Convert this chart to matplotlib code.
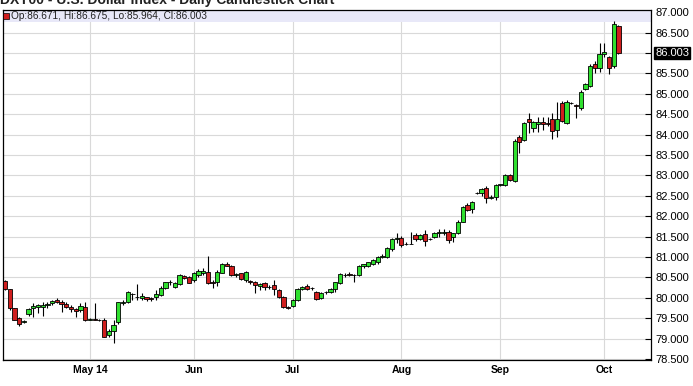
import matplotlib
matplotlib.use("Agg")
import matplotlib.pyplot as plt
from matplotlib.patches import Rectangle
import pandas as pd
import numpy as np

plt.rcParams['font.family'] = ['Liberation Sans', 'DejaVu Sans']

dates = pd.bdate_range('2014-04-07', '2014-10-06')

opens = [80.42, 80.21, 79.74, 79.50, 79.41, 79.60, 79.74, 79.78, 79.78, 79.82,
         79.87, 79.96, 79.89, 79.86, 79.77, 79.73, 79.70, 79.77, 79.47, 79.48,
         79.47, 79.47, 79.09, 79.20, 79.40, 79.87, 79.89, 80.09, 80.02, 79.99,
         80.01, 79.99, 80.01, 80.07, 80.23, 80.38, 80.26, 80.34, 80.54, 80.50,
         80.44, 80.55, 80.62, 80.63, 80.38, 80.38, 80.62, 80.82, 80.77, 80.56,
         80.60, 80.44, 80.41, 80.40, 80.29, 80.36, 80.26, 80.31, 80.19, 80.03,
         79.77, 79.80, 79.95, 80.21, 80.29, 80.23, 80.14, 79.99, 80.14, 80.14,
         80.21, 80.37, 80.56, 80.58, 80.56, 80.55, 80.78, 80.78, 80.82, 80.88,
         81.01, 81.00, 81.19, 81.45, 81.46, 81.31, 81.32, 81.54, 81.44, 81.56,
         81.43, 81.49, 81.59, 81.60, 81.61, 81.48, 81.58, 81.87, 82.28, 82.17,
         82.57, 82.58, 82.70, 82.45, 82.48, 82.77, 82.77, 83.01, 82.87, 83.94,
         83.87, 84.38, 84.16, 84.26, 84.32, 84.28, 84.38, 84.12, 84.77, 84.28,
         84.77, 84.72, 84.65, 85.12, 85.18, 85.73, 85.63, 85.98, 85.90, 85.67,
         86.671]
highs = [80.45, 80.22, 79.76, 79.54, 79.46, 79.74, 79.87, 79.86, 79.90, 79.90,
         79.96, 79.99, 79.95, 79.91, 79.83, 79.75, 79.87, 79.89, 79.50, 79.87,
         79.49, 79.50, 79.23, 79.46, 79.91, 79.95, 80.16, 80.12, 80.34, 80.11,
         80.03, 80.03, 80.19, 80.28, 80.40, 80.44, 80.40, 80.59, 80.56, 80.54,
         80.64, 80.70, 80.72, 81.03, 80.44, 80.68, 80.86, 80.89, 80.80, 80.62,
         80.62, 80.65, 80.45, 80.41, 80.36, 80.38, 80.32, 80.44, 80.22, 80.05,
         79.80, 79.97, 80.23, 80.28, 80.35, 80.26, 80.16, 80.14, 80.18, 80.24,
         80.40, 80.60, 80.62, 80.63, 80.58, 80.80, 80.84, 80.89, 80.94, 81.03,
         81.08, 81.25, 81.47, 81.58, 81.52, 81.36, 81.62, 81.60, 81.56, 81.66,
         81.46, 81.62, 81.68, 81.68, 81.66, 81.60, 81.90, 82.26, 82.32, 82.38,
         82.60, 82.68, 82.74, 82.52, 82.80, 82.80, 83.04, 83.03, 83.90, 84.00,
         84.30, 84.54, 84.34, 84.44, 84.44, 84.44, 84.52, 84.81, 84.82, 84.85,
         84.81, 84.74, 85.10, 85.27, 85.72, 85.80, 86.25, 86.25, 85.93, 86.79,
         86.675]
lows = [80.19, 79.70, 79.46, 79.31, 79.38, 79.56, 79.54, 79.62, 79.56, 79.74,
        79.83, 79.87, 79.66, 79.74, 79.66, 79.54, 79.66, 79.44, 79.45, 79.46,
        79.44, 79.03, 79.05, 78.89, 79.37, 79.83, 79.87, 79.96, 79.95, 79.95,
        79.93, 79.93, 79.96, 80.05, 80.21, 80.32, 80.24, 80.32, 80.46, 80.36,
        80.40, 80.52, 80.55, 80.33, 80.23, 80.28, 80.60, 80.77, 80.54, 80.52,
        80.44, 80.40, 80.33, 80.13, 80.20, 80.20, 80.22, 80.07, 80.00, 79.74,
        79.72, 79.78, 79.93, 80.19, 80.19, 80.20, 79.95, 79.97, 80.10, 80.12,
        80.15, 80.35, 80.52, 80.53, 80.40, 80.53, 80.74, 80.76, 80.80, 80.84,
        80.98, 80.97, 81.16, 81.34, 81.24, 81.30, 81.31, 81.40, 81.42, 81.27,
        81.41, 81.46, 81.50, 81.55, 81.35, 81.38, 81.56, 81.85, 82.12, 82.08,
        82.55, 82.50, 82.32, 82.42, 82.40, 82.75, 82.75, 82.87, 82.85, 83.54,
        83.85, 84.05, 84.07, 84.07, 84.12, 84.20, 83.89, 83.95, 84.30, 84.26,
        84.74, 84.40, 84.60, 85.10, 85.16, 85.50, 85.54, 85.90, 85.49, 85.64,
        85.964]
closes = [80.21, 79.74, 79.47, 79.36, 79.43, 79.72, 79.79, 79.82, 79.82, 79.86,
          79.93, 79.89, 79.84, 79.77, 79.73, 79.69, 79.80, 79.46, 79.48, 79.47,
          79.45, 79.05, 79.19, 79.34, 79.89, 79.91, 80.14, 80.10, 80.03, 80.05,
          79.97, 79.98, 80.10, 80.23, 80.38, 80.39, 80.36, 80.56, 80.48, 80.37,
          80.62, 80.66, 80.67, 80.36, 80.37, 80.64, 80.82, 80.78, 80.56, 80.58,
          80.46, 80.63, 80.40, 80.32, 80.35, 80.26, 80.27, 80.21, 80.03, 79.77,
          79.75, 79.95, 80.21, 80.26, 80.21, 80.23, 79.97, 80.13, 80.15, 80.21,
          80.38, 80.58, 80.57, 80.55, 80.57, 80.78, 80.82, 80.87, 80.92, 81.00,
          81.03, 81.22, 81.44, 81.46, 81.30, 81.33, 81.33, 81.44, 81.53, 81.40,
          81.44, 81.58, 81.61, 81.61, 81.42, 81.58, 81.87, 82.22, 82.15, 82.36,
          82.58, 82.66, 82.44, 82.48, 82.77, 82.78, 83.01, 82.89, 83.85, 83.82,
          84.28, 84.30, 84.32, 84.32, 84.26, 84.26, 84.10, 84.38, 84.34, 84.81,
          84.78, 84.70, 85.05, 85.24, 85.68, 85.63, 85.98, 86.02, 85.64, 86.70,
          86.003]

month_labels = ["May 14", "Jun", "Jul", "Aug", "Sep", "Oct"]
y_ticks = [78.5, 79.0, 79.5, 80.0, 80.5, 81.0, 81.5, 82.0, 82.5, 83.0,
           83.5, 84.0, 84.5, 85.0, 85.5, 86.0, 86.5, 87.0]
title = "DXY00 - U.S. Dollar Index - Daily Candlestick Chart"

W, H = 693, 386
fig = plt.figure(figsize=(W / 100, H / 100), dpi=100)
ax_l, ax_r, ax_t, ax_b = 3, 651, 10, 360
ax = fig.add_axes([ax_l / W, 1 - ax_b / H, (ax_r - ax_l) / W, (ax_b - ax_t) / H])

o = np.array(opens); h = np.array(highs); l = np.array(lows); c = np.array(closes)
x = np.arange(len(o))
up = c >= o
green = '#2FE02F'
red = '#D01E1E'

ax.vlines(x, l, h, color='black', linewidth=0.8, zorder=3)
bottoms = np.minimum(o, c)
heights = np.abs(c - o)
ax.bar(x, heights, bottom=bottoms, width=0.9,
       color=np.where(up, green, red), edgecolor='black', linewidth=0.6, zorder=4)

# month gridlines
month_idx = [i for i in range(1, len(dates)) if dates[i].month != dates[i - 1].month]
ax.set_xticks(month_idx)
ax.set_xticklabels(month_labels, fontsize=7.5, fontweight='bold')
ax.tick_params(axis='x', length=0, pad=3.5)
ax.set_xlim(-0.42, 136.9)
ax.set_ylim(78.478, 87.052)

ax.yaxis.tick_right()
ax.set_yticks(y_ticks)
ax.set_yticklabels([f"{v:.3f}" for v in y_ticks], fontsize=8)
ax.tick_params(axis='y', direction='in', length=4, width=0.8, pad=3, right=True, left=False)

ax.grid(True, color='#D9D9D9', linewidth=0.8, zorder=0)
ax.set_axisbelow(True)
for s in ax.spines.values():
    s.set_color('black')
    s.set_linewidth(0.9)

# legend band
ax.add_patch(Rectangle((0, 1 - 12 / 350), 1, 12 / 350, transform=ax.transAxes,
                       facecolor='#E8E8F8', edgecolor='none', zorder=2))
last = len(o) - 1
leg_txt = f"Op:{o[last]:.3f}, Hi:{h[last]:.3f}, Lo:{l[last]:.3f}, Cl:{c[last]:.3f}"
fig.patches.append(Rectangle((3 / W, 1 - 19 / H), 6 / W, 6 / H, transform=fig.transFigure,
                             facecolor=red, edgecolor='black', linewidth=0.5, zorder=10))
fig.text(11 / W, 1 - 16 / H, leg_txt, fontsize=7.3, va='center', ha='left', color='#222222')

# current price box
ax.annotate(f"{c[last]:.3f}", xy=(1, c[last]), xycoords=('axes fraction', 'data'),
            xytext=(3, 0), textcoords='offset points', fontsize=8, color='white',
            va='center', ha='left',
            bbox=dict(boxstyle='square,pad=0.1', facecolor='black', edgecolor='black'),
            annotation_clip=False, zorder=10)

# title: the reference shows it cropped at the top edge
fig.text(0.0, 1 - 4 / H, title, fontsize=10, fontweight='bold', va='baseline', ha='left',
         color='#222222')

fig.savefig('out.png', dpi=100)
